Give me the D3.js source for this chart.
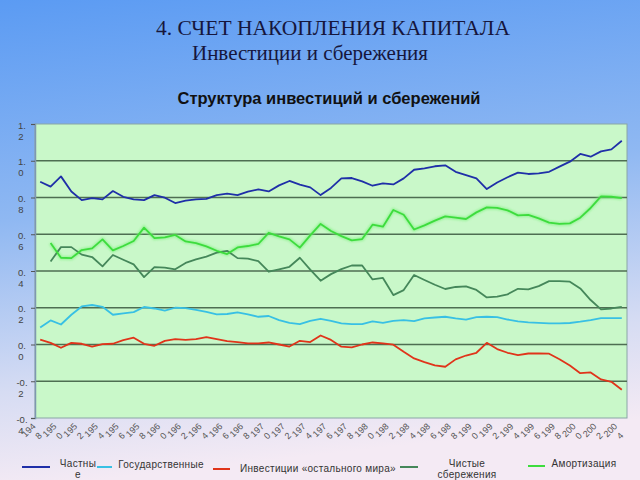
<!DOCTYPE html>
<html><head><meta charset="utf-8">
<script src="https://cdn.jsdelivr.net/npm/d3@7"></script>
<style>html,body{margin:0;padding:0;}svg{display:block;}</style>
</head><body>
<script>
const years = d3.range(1948, 2005);
const yearLabels = d3.range(1948, 2005, 2).map(String);
const yTickLabels = ["1.2","1.0","0.8","0.6","0.4","0.2","0.0","-0.2","-0.4"];
const seriesNames = ["Частные","Государственные","Инвестиции «остального мира»","Чистые сбережения","Амортизация"];

const privateInv = [0.886,0.859,0.915,0.833,0.786,0.797,0.79,0.835,0.804,0.79,0.786,0.813,0.799,0.77,0.783,
 0.79,0.793,0.813,0.821,0.813,0.832,0.844,0.833,0.866,0.89,0.87,0.855,0.813,0.852,
 0.904,0.906,0.888,0.864,0.877,0.871,0.904,0.951,0.959,0.97,0.975,0.94,0.922,0.904,
 0.846,0.882,0.91,0.935,0.928,0.931,0.94,0.968,0.995,1.037,1.022,1.051,1.062,1.109];
const governmentInv = [0.093,0.131,0.109,0.162,0.207,0.215,0.205,0.162,0.169,0.176,0.204,0.196,0.184,0.2,0.198,
 0.189,0.178,0.164,0.166,0.175,0.164,0.151,0.155,0.133,0.118,0.111,0.129,0.14,0.128,
 0.115,0.111,0.111,0.126,0.118,0.129,0.133,0.127,0.142,0.147,0.151,0.142,0.135,0.149,
 0.151,0.149,0.136,0.126,0.12,0.118,0.115,0.115,0.117,0.124,0.133,0.144,0.144,0.144];
const restOfWorld = [0.026,0.009,-0.018,0.009,0.004,-0.011,0.002,0.004,0.024,0.037,0.004,-0.007,0.02,0.029,0.025,
 0.029,0.04,0.029,0.018,0.013,0.006,0.006,0.011,0.0,-0.011,0.02,0.013,0.049,0.025,
 -0.012,-0.016,0.0,0.011,0.006,-0.001,-0.04,-0.076,-0.096,-0.114,-0.121,-0.081,-0.06,-0.045,
 0.009,-0.025,-0.045,-0.058,-0.049,-0.049,-0.05,-0.08,-0.114,-0.156,-0.152,-0.19,-0.203,-0.246];
const netSavings = [null,0.452,0.53,0.53,0.489,0.476,0.425,0.487,0.461,0.436,0.367,0.421,0.418,0.409,0.444,
 0.463,0.478,0.5,0.51,0.47,0.467,0.454,0.396,0.409,0.423,0.472,0.407,0.347,0.383,
 0.41,0.43,0.43,0.354,0.362,0.269,0.296,0.378,0.351,0.325,0.302,0.313,0.316,0.297,
 0.256,0.26,0.273,0.303,0.3,0.318,0.345,0.345,0.342,0.305,0.242,0.191,0.196,0.205];
const depreciation = [null,0.552,0.472,0.47,0.514,0.523,0.572,0.512,0.536,0.563,0.636,0.579,0.583,0.596,0.561,
 0.552,0.534,0.51,0.492,0.528,0.536,0.547,0.608,0.588,0.572,0.527,0.594,0.656,0.618,
 0.59,0.567,0.574,0.652,0.641,0.732,0.706,0.626,0.648,0.674,0.697,0.69,0.683,0.719,
 0.746,0.744,0.73,0.703,0.705,0.686,0.663,0.656,0.659,0.69,0.743,0.806,0.804,0.797];

const allSeries = [privateInv, governmentInv, restOfWorld, netSavings, depreciation];
const colors = ["#1f2fa8","#38c0e4","#e0341a","#45875a","#3ddc3d"];

const W = 640, H = 480;
const svg = d3.select("body").append("svg").attr("width", W).attr("height", H);
const defs = svg.append("defs");
const bg = defs.append("linearGradient").attr("id","bg").attr("x1","0").attr("y1","0").attr("x2","0.15").attr("y2","1");
bg.append("stop").attr("offset","0").attr("stop-color","#5b9bf3");
bg.append("stop").attr("offset","0.45").attr("stop-color","#8fb8f2");
bg.append("stop").attr("offset","0.8").attr("stop-color","#d6dcf3");
bg.append("stop").attr("offset","1").attr("stop-color","#f4eaf4");
const glow = defs.append("filter").attr("id","glow").attr("x","-5%").attr("y","-20%").attr("width","110%").attr("height","140%");
glow.append("feGaussianBlur").attr("stdDeviation","1.2");

svg.append("rect").attr("width", W).attr("height", H).attr("fill", "url(#bg)");

svg.append("text").attr("x", 333).attr("y", 35).attr("text-anchor","middle")
  .attr("font-family","'Liberation Serif','Times New Roman',serif").attr("font-size", 21.5)
  .attr("fill","#16163c").text("4. СЧЕТ НАКОПЛЕНИЯ КАПИТАЛА");
svg.append("text").attr("x", 310).attr("y", 60).attr("text-anchor","middle")
  .attr("font-family","'Liberation Serif','Times New Roman',serif").attr("font-size", 21)
  .attr("fill","#16163c").text("Инвестиции и сбережения");
svg.append("text").attr("x", 329).attr("y", 104).attr("text-anchor","middle")
  .attr("font-family","'Liberation Sans',Arial,sans-serif").attr("font-size", 16.5).attr("font-weight","bold")
  .attr("fill","#111").text("Структура инвестиций и сбережений");

const L = 35, R = 627, T = 124, B = 418;
const x = d3.scalePoint().domain(years).range([L, R]).padding(0.5);
const y = d3.scaleLinear().domain([-0.4, 1.2]).range([B, T]);

svg.append("rect").attr("x", L).attr("y", T).attr("width", R - L).attr("height", B - T)
  .attr("fill","#c9f8c9").attr("stroke","#8aa6a6").attr("stroke-width",1);

// gridlines
svg.append("g").selectAll("line").data(yTickLabels.map(Number).filter(v => v > -0.4 && v < 1.2))
  .join("line").attr("x1", L).attr("x2", R).attr("y1", d => y(d)).attr("y2", d => y(d))
  .attr("stroke","#4e6e52").attr("stroke-width",1.6);

// y axis
const yAxis = svg.append("g").attr("transform", `translate(${L},0)`)
  .call(d3.axisLeft(y).tickValues(yTickLabels.map(Number)).tickSize(4).tickFormat(() => ""));
yAxis.select(".domain").attr("stroke","#7f97b0").attr("stroke-width",1.5);
yAxis.selectAll(".tick line").attr("stroke","#555");
yAxis.selectAll(".tick").each(function(d, i) {
  const lab = yTickLabels[i];
  const dot = lab.indexOf(".");
  const t = d3.select(this).append("text").attr("fill","#444")
    .attr("font-family","'Liberation Sans',Arial,sans-serif").attr("font-size", 9.5)
    .attr("text-anchor","middle");
  t.append("tspan").attr("x", -13).attr("y", 4).text(lab.slice(0, dot + 1));
  t.append("tspan").attr("x", -14).attr("y", 15).text(lab.slice(dot + 1));
});

// x labels
const xl = svg.append("g");
yearLabels.forEach(lab => {
  const px = x(+lab);
  const t = xl.append("text").attr("transform", `translate(${px - 4},${B + 9}) rotate(-45)`)
    .attr("text-anchor","end").attr("fill","#555")
    .attr("font-family","'Liberation Sans',Arial,sans-serif").attr("font-size", 9);
  t.append("tspan").attr("x", 0).attr("y", 0).text(lab.slice(0, 3));
  t.append("tspan").attr("x", -2).attr("y", 11).text(lab.slice(3));
});

// lines
const line = d3.line().defined(d => d != null).x((d, i) => x(years[i])).y(d => y(d));
const gl = svg.append("g");
gl.append("path").datum(depreciation).attr("d", line).attr("fill","none")
  .attr("stroke","#7cf07c").attr("stroke-width",4).attr("opacity",0.6).attr("filter","url(#glow)");
allSeries.forEach((s, k) => {
  gl.append("path").datum(s).attr("d", line).attr("fill","none")
    .attr("stroke", colors[k]).attr("stroke-width", 1.8).attr("stroke-linejoin","round");
});

// legend
const lg = svg.append("g").attr("font-family","'Liberation Sans',Arial,sans-serif")
  .attr("font-size", 10).attr("fill","#333");
const legendItems = [
  {lx1: 22, lx2: 50, ly: 467, lines: ["Частны","е"], tx: 78, ty: 467},
  {lx1: 97, lx2: 112, ly: 467, lines: ["Государственные"], tx: 161, ty: 468},
  {lx1: 213, lx2: 230, ly: 469, lines: ["Инвестиции «остального мира»"], tx: 318, ty: 472},
  {lx1: 400, lx2: 418, ly: 467, lines: ["Чистые","сбережения"], tx: 467, ty: 467},
  {lx1: 528, lx2: 545, ly: 466, lines: ["Амортизация"], tx: 584, ty: 467}
];
legendItems.forEach((it, k) => {
  lg.append("line").attr("x1", it.lx1).attr("x2", it.lx2).attr("y1", it.ly).attr("y2", it.ly)
    .attr("stroke", colors[k]).attr("stroke-width", 2);
  const t = lg.append("text").attr("text-anchor","middle").attr("letter-spacing", 0.3);
  it.lines.forEach((s, j) => t.append("tspan").attr("x", it.tx).attr("y", it.ty + j * 10.5).text(s));
});
</script>
</body></html>
